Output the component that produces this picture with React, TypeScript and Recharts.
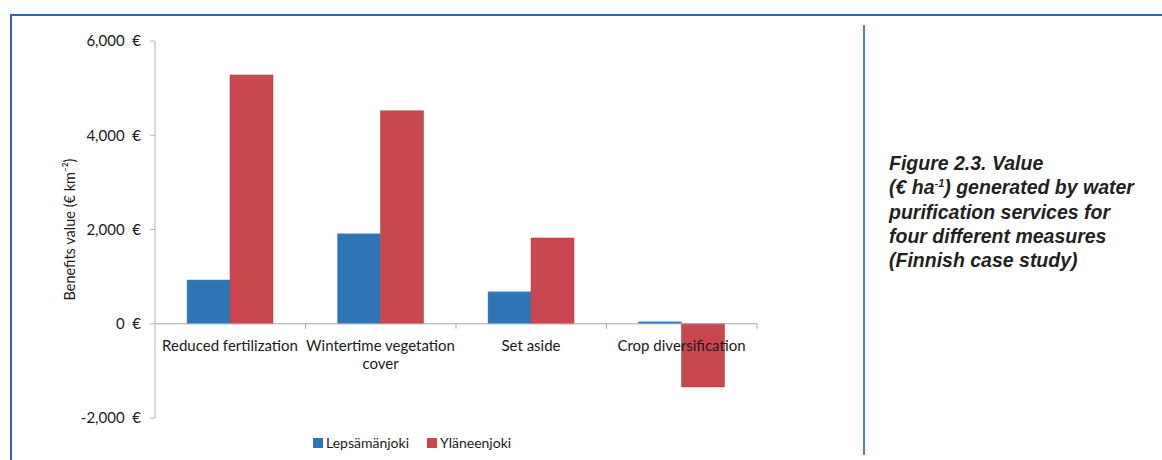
import React from 'react';
import { BarChart, Bar, XAxis, YAxis, ReferenceLine, LabelList } from 'recharts';

const categories = ['Reduced fertilization', 'Wintertime vegetation cover', 'Set aside', 'Crop diversification'];
const tickLines = [['Reduced fertilization'], ['Wintertime vegetation', 'cover'], ['Set aside'], ['Crop diversification']];
const lepsamanjoki = [930, 1910, 680, 40];
const ylaneenjoki = [5280, 4520, 1820, -1340];
const yTicks = [-2000, 0, 2000, 4000, 6000];
const seriesNames = ['Lepsämänjoki', 'Yläneenjoki'];
const seriesColors = ['#2E75B6', '#C9474E'];

const data = categories.map((c, i) => ({ name: c, lep: lepsamanjoki[i], yla: ylaneenjoki[i] }));

const FONT = 'Lato, "Open Sans", sans-serif';
const CHART_W = 860;
const CHART_H = 460;
const M = { top: 41, right: 103, bottom: 41, left: 0 };
const X_AXIS_H = 1;
const Y_AXIS_W = 155;
const PLOT_H = CHART_H - M.top - M.bottom - X_AXIS_H;
const PLOT_W = CHART_W - M.left - M.right - Y_AXIS_W;
const Y_MIN = yTicks[0];
const Y_MAX = yTicks[yTicks.length - 1];
const ZERO_Y = M.top + (PLOT_H * Y_MAX) / (Y_MAX - Y_MIN);
const BAND = PLOT_W / categories.length;

const fmtEuro = (v: number) => `${v.toLocaleString('en-US')}\u00A0\u00A0€`;

// boundary marks under the zero line
const BoundaryTick = (props: any) => {
  const { x } = props;
  return <line x1={x + BAND / 2} x2={x + BAND / 2} y1={ZERO_Y} y2={ZERO_Y + 5} stroke="#a6a6a6" />;
};

// category names, drawn over the bars (red bar's left edge = category centre)
const CategoryLabel = (props: any) => {
  const { x, index } = props;
  const lines = tickLines[index] || [categories[index]];
  return (
    <g>
      {lines.map((l: string, i: number) => (
        <text key={i} x={x} y={ZERO_Y + 27 + i * 18} textAnchor="middle" fontSize={15} fill="#1a1a1a" fontFamily={FONT}>
          {l}
        </text>
      ))}
    </g>
  );
};

export default function App() {
  return (
    <div style={{ position: 'absolute', left: 0, top: 0, width: 1162, height: 460, background: '#fff', overflow: 'hidden' }}>
      {/* page frame */}
      <div style={{ position: 'absolute', left: 10, top: 14, width: 1152, height: 2, background: '#2f67b4' }} />
      <div style={{ position: 'absolute', left: 10, top: 14, width: 2, height: 446, background: '#2f67b4' }} />
      <div style={{ position: 'absolute', left: 863, top: 25, width: 2, height: 430, background: '#4f80c2' }} />

      <div style={{ position: 'absolute', left: 0, top: 0 }}>
        <BarChart width={CHART_W} height={CHART_H} data={data} margin={M} barGap={0} barSize={43}>
          <XAxis dataKey="name" axisLine={false} tickLine={false} tick={<BoundaryTick />} height={X_AXIS_H} interval={0} />
          <YAxis
            domain={[Y_MIN, Y_MAX]}
            ticks={yTicks}
            width={Y_AXIS_W}
            tickFormatter={fmtEuro}
            axisLine={{ stroke: '#b4b4b4' }}
            tickLine={{ stroke: '#b4b4b4' }}
            tickSize={5}
            tickMargin={9}
            tick={{ fontSize: 15, fill: '#1a1a1a', fontFamily: FONT }}
            label={{
              value: 'Benefits value (€ km⁻²)',
              angle: -90,
              position: 'insideLeft',
              offset: 70,
              style: { textAnchor: 'middle', fontSize: 14.5, fill: '#1a1a1a', fontFamily: FONT },
            }}
          />
          <ReferenceLine y={0} stroke="#a6a6a6" />
          <Bar dataKey="lep" name={seriesNames[0]} fill={seriesColors[0]} stroke="#5b8fc8" strokeWidth={0.5} isAnimationActive={false} />
          <Bar dataKey="yla" name={seriesNames[1]} fill={seriesColors[1]} stroke="#b03a40" strokeWidth={0.5} isAnimationActive={false}>
            <LabelList dataKey="name" content={<CategoryLabel />} />
          </Bar>
        </BarChart>
      </div>

      {/* legend */}
      <div style={{ position: 'absolute', left: 313, top: 434, display: 'flex', alignItems: 'center', fontFamily: FONT, fontSize: 14, color: '#1a1a1a' }}>
        {seriesNames.map((n, i) => (
          <div key={n} style={{ display: 'flex', alignItems: 'center', marginRight: 18 }}>
            <span style={{ display: 'inline-block', width: 10, height: 10, background: seriesColors[i], marginRight: 3 }} />
            <span>{n}</span>
          </div>
        ))}
      </div>

      {/* caption */}
      <div
        style={{
          position: 'absolute',
          left: 889,
          top: 151,
          width: 273,
          fontFamily: '"Liberation Sans", Arial, sans-serif',
          fontWeight: 'bold',
          fontStyle: 'italic',
          fontSize: 19.5,
          lineHeight: '24.3px',
          color: '#231f20',
          whiteSpace: 'nowrap',
        }}
      >
        Figure 2.3. Value
        <br />
        (€ ha<sup style={{ fontSize: 11, lineHeight: 0 }}>-1</sup>) generated by water
        <br />
        purification services for
        <br />
        four different measures
        <br />
        (Finnish case study)
      </div>
    </div>
  );
}
